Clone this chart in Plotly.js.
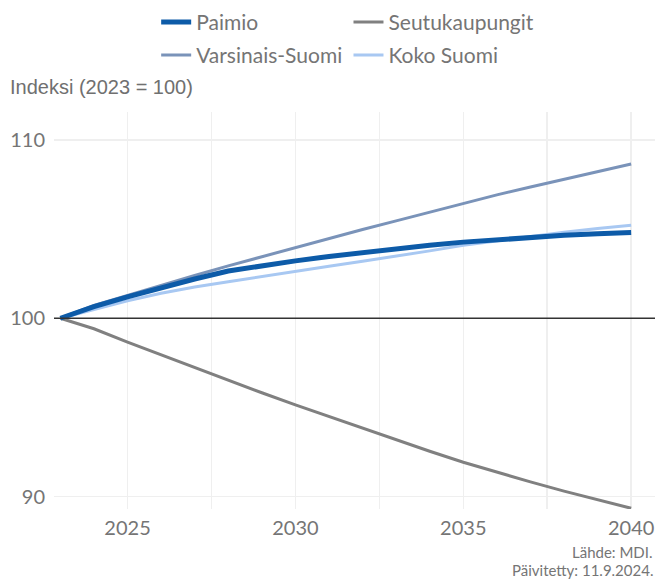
<!DOCTYPE html>
<html>
<head>
<meta charset="utf-8">
<script src="https://cdn.plot.ly/plotly-3.0.1.min.js"></script>
<style>html,body{margin:0;padding:0;background:#fff;}#chart{width:657px;height:579px;}</style>
</head>
<body>
<div id="chart"></div>
<script>
const years = [2023,2024,2025,2026,2027,2028,2029,2030,2031,2032,2033,2034,2035,2036,2037,2038,2039,2040];
const paimio = [100,100.65,101.2,101.73,102.2,102.65,102.97,103.22,103.47,103.7,103.9,104.1,104.27,104.42,104.54,104.65,104.74,104.81];
const varsinaisSuomi = [100,100.72,101.28,101.85,102.4,102.94,103.46,103.96,104.47,104.98,105.46,105.96,106.46,106.92,107.36,107.8,108.23,108.65];
const seutukaupungit = [100,99.41,98.66,97.94,97.22,96.52,95.82,95.14,94.48,93.82,93.17,92.54,91.92,91.35,90.82,90.3,89.81,89.34];
const kokoSuomi = [100,100.5,100.98,101.4,101.75,102.05,102.35,102.62,102.92,103.2,103.47,103.78,104.1,104.35,104.6,104.83,105.03,105.22];
const seriesNames = ['Paimio','Varsinais-Suomi','Seutukaupungit','Koko Suomi'];
const yTicks = [90,100,110];
const xTicks = [2025,2030,2035,2040];
const yTitle = 'Indeksi (2023 = 100)';
const captionLines = ['Lähde: MDI.','Päivitetty: 11.9.2024.'];

const font = 'Lato, "Open Sans", sans-serif';
const txt = '#757575';

const traces = [
  {x: years, y: seutukaupungit, name: seriesNames[2], mode:'lines', line:{color:'#808080', width:3}, legend:'legend2'},
  {x: years, y: varsinaisSuomi, name: seriesNames[1], mode:'lines', line:{color:'#7a93b9', width:3}, legend:'legend3'},
  {x: years, y: kokoSuomi, name: seriesNames[3], mode:'lines', line:{color:'#a8c8f2', width:3}, legend:'legend4'},
  {x: years, y: paimio, name: seriesNames[0], mode:'lines', line:{color:'#0d5ba8', width:5}, legend:'legend'}
];

function leg(x, y) {
  return {
    orientation:'v', yanchor:'middle', xanchor:'left', x:x, y:y,
    font:{family:font, size:21, color:txt}, bgcolor:'rgba(0,0,0,0)',
    itemwidth:30
  };
}
const row1 = 1 + (110-20)/399;
const row2 = 1 + (110-53)/399;

const layout = {
  width:657, height:579,
  margin:{l:54, r:2, t:110, b:70},
  paper_bgcolor:'#fff', plot_bgcolor:'#fff',
  font:{family:font, color:txt},
  showlegend:true,
  legend:leg(0.17, row1),
  legend2:leg(0.49, row1),
  legend3:leg(0.17, row2),
  legend4:leg(0.49, row2),
  xaxis:{
    range:[2022.81, 2040.71], tickvals:xTicks, ticktext:xTicks.map(String),
    showgrid:true, gridcolor:'#efefef', gridwidth:1.5,
    minor:{dtick:2.5, tick0:2022.5, showgrid:true, gridcolor:'#efefef', gridwidth:1.5},
    zeroline:false, showline:false, ticks:'', ticklabelstandoff:5,
    tickfont:{family:font, size:20, color:txt}
  },
  yaxis:{
    range:[89.3, 111.57], tickvals:yTicks, ticktext:yTicks.map(String),
    showgrid:true, gridcolor:'#efefef', gridwidth:1.5,
    zeroline:false, showline:false, ticks:'', ticklabelstandoff:8,
    tickfont:{family:font, size:20, color:txt}
  },
  shapes:[
    {type:'line', xref:'paper', x0:0, x1:1, yref:'y', y0:100, y1:100, line:{color:'#333333', width:1.6}, layer:'above'}
  ],
  annotations:[
    {text:yTitle, xref:'paper', yref:'paper', x:-0.076, y:1.0 + (110-85)/399, xanchor:'left', yanchor:'middle', showarrow:false,
     font:{family:'"Liberation Sans", Arial, sans-serif', size:20, color:'#707070'}},
    {text:captionLines[0], xref:'paper', yref:'paper', x:1.0, y:-(552-509)/399, xanchor:'right', yanchor:'middle', showarrow:false,
     font:{family:font, size:15, color:txt}},
    {text:captionLines[1], xref:'paper', yref:'paper', x:1.0, y:-(570-509)/399, xanchor:'right', yanchor:'middle', showarrow:false,
     font:{family:font, size:15, color:txt}}
  ]
};

Plotly.newPlot('chart', traces, layout, {displayModeBar:false, staticPlot:true});
</script>
</body>
</html>
